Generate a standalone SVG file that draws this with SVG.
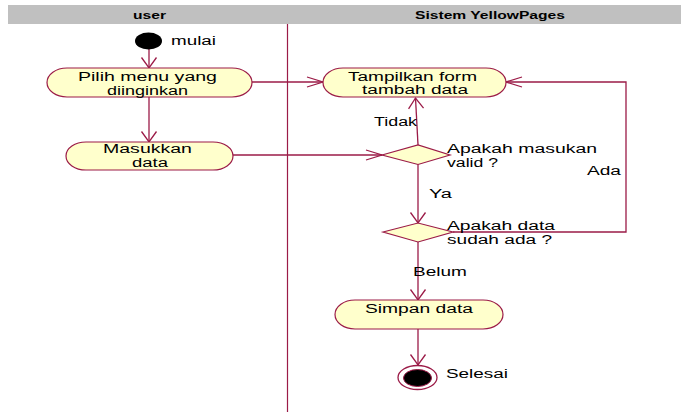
<svg xmlns="http://www.w3.org/2000/svg" width="681" height="412" viewBox="0 0 681 412">
<style>
.bg{fill:#ffffff}
.hdr{fill:#c0c0c0}
.ht{font-family:"Liberation Sans",Arial,sans-serif;font-size:10px;font-weight:bold;fill:#000}
.t{font-family:"Liberation Sans",Arial,sans-serif;font-size:12.5px;fill:#000}
.node{fill:#ffffcc;stroke:#9b1b47;stroke-width:1.2}
.ln{fill:none;stroke:#9b1b47;stroke-width:1.3}
.lane{fill:none;stroke:#9b1b47;stroke-width:1.2}
</style>
<defs>
<marker id="mh" markerUnits="userSpaceOnUse" orient="auto" refX="0" refY="0" markerWidth="20" markerHeight="12" overflow="visible">
<path d="M-16,-5 L0,0 L-16,5" fill="none" stroke="#9b1b47" stroke-width="1.3"/>
</marker>
<marker id="mv" markerUnits="userSpaceOnUse" orient="auto" refX="0" refY="0" markerWidth="14" markerHeight="18" overflow="visible">
<path d="M-10.5,-7.5 L0,0 L-10.5,7.5" fill="none" stroke="#9b1b47" stroke-width="1.3"/>
</marker>
</defs>
<rect class="bg" x="0" y="0" width="681" height="412"/>
<g id="swimlanes">
<rect class="hdr" x="8" y="5" width="673" height="19"/>
<text class="ht" x="133" y="19" textLength="33" lengthAdjust="spacingAndGlyphs">user</text>
<text class="ht" x="415" y="19" textLength="150" lengthAdjust="spacingAndGlyphs">Sistem YellowPages</text>
<line class="lane" x1="287.5" y1="24" x2="287.5" y2="412"/>
</g>
<g id="connectors">
<line class="ln" x1="149" y1="49" x2="149" y2="68" marker-end="url(#mv)"/>
<line class="ln" x1="149" y1="97" x2="149" y2="142" marker-end="url(#mv)"/>
<line class="ln" x1="252" y1="82" x2="323" y2="82" marker-end="url(#mh)"/>
<line class="ln" x1="233" y1="155" x2="382" y2="155" marker-end="url(#mh)"/>
<line class="ln" x1="418" y1="145" x2="415.5" y2="98" marker-end="url(#mv)"/>
<line class="ln" x1="418" y1="164" x2="418" y2="223" marker-end="url(#mv)"/>
<polyline class="ln" points="453,232 626,232 626,82 506,82" marker-end="url(#mh)"/>
<line class="ln" x1="418" y1="242" x2="418" y2="300" marker-end="url(#mv)"/>
<line class="ln" x1="418" y1="329" x2="418" y2="365" marker-end="url(#mv)"/>
<text class="t" x="374" y="126" textLength="43" lengthAdjust="spacingAndGlyphs">Tidak</text>
<text class="t" x="429" y="198" textLength="23" lengthAdjust="spacingAndGlyphs">Ya</text>
<text class="t" x="587" y="175" textLength="34" lengthAdjust="spacingAndGlyphs">Ada</text>
<text class="t" x="413" y="276" textLength="54" lengthAdjust="spacingAndGlyphs">Belum</text>
</g>
<g id="start">
<ellipse cx="148.5" cy="41" rx="13.5" ry="8.5" fill="#000"/>
<text class="t" x="171" y="45" textLength="45" lengthAdjust="spacingAndGlyphs">mulai</text>
</g>
<g id="pilih-menu">
<rect class="node" x="47" y="68" width="205" height="29" rx="20" ry="14.5"/>
<text class="t" x="78" y="81" textLength="139" lengthAdjust="spacingAndGlyphs">Pilih menu yang</text>
<text class="t" x="107" y="94.5" textLength="81" lengthAdjust="spacingAndGlyphs">diinginkan</text>
</g>
<g id="masukkan-data">
<rect class="node" x="66" y="142" width="167" height="28" rx="20" ry="14"/>
<text class="t" x="103" y="153" textLength="89" lengthAdjust="spacingAndGlyphs">Masukkan</text>
<text class="t" x="132" y="167" textLength="36" lengthAdjust="spacingAndGlyphs">data</text>
</g>
<g id="tampilkan-form">
<rect class="node" x="323" y="68" width="183" height="29" rx="20" ry="14.5"/>
<text class="t" x="348" y="80.5" textLength="129" lengthAdjust="spacingAndGlyphs">Tampilkan form</text>
<text class="t" x="362" y="94" textLength="106" lengthAdjust="spacingAndGlyphs">tambah data</text>
</g>
<g id="cek-valid">
<polygon class="node" points="382,155 418,145 450,155 418,164.5"/>
<text class="t" x="447" y="153" textLength="150" lengthAdjust="spacingAndGlyphs">Apakah masukan</text>
<text class="t" x="447" y="167" textLength="51" lengthAdjust="spacingAndGlyphs">valid ?</text>
</g>
<g id="cek-ada">
<polygon class="node" points="383,232 418,223 453,232 418,242"/>
<text class="t" x="447" y="230" textLength="108" lengthAdjust="spacingAndGlyphs">Apakah data</text>
<text class="t" x="447" y="244" textLength="105" lengthAdjust="spacingAndGlyphs">sudah ada ?</text>
</g>
<g id="simpan-data">
<rect class="node" x="335" y="300" width="168" height="29" rx="20" ry="14.5"/>
<text class="t" x="365" y="313" textLength="108" lengthAdjust="spacingAndGlyphs">Simpan data</text>
</g>
<g id="end">
<ellipse cx="417.5" cy="377.5" rx="19.5" ry="12" fill="#fff" stroke="#9b1b47" stroke-width="1.3"/>
<ellipse cx="417.5" cy="378" rx="14" ry="8.5" fill="#000" stroke="#9b1b47" stroke-width="1"/>
<text class="t" x="446" y="378" textLength="62" lengthAdjust="spacingAndGlyphs">Selesai</text>
</g>
</svg>
